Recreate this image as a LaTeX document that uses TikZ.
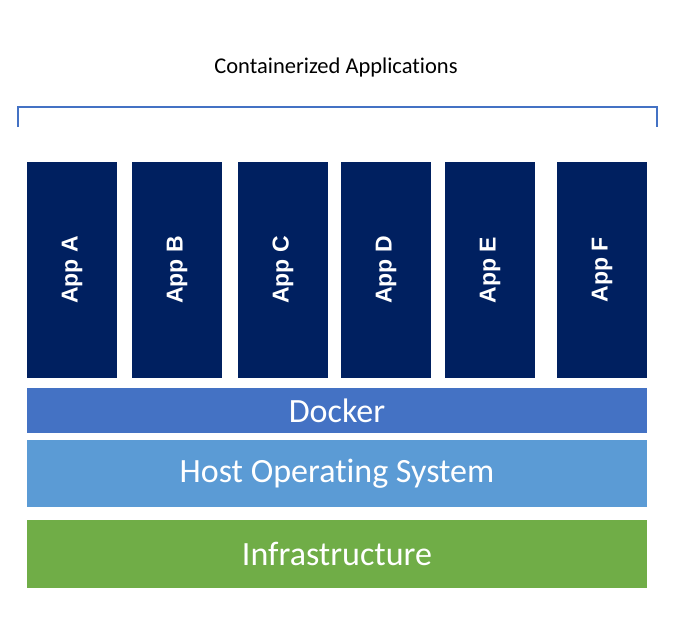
\documentclass[tikz,border=0pt]{standalone}
\usepackage{fontspec}
\setmainfont{Carlito}[Ligatures=NoCommon]
\newfontfamily\appfont{Liberation Sans}
\definecolor{appblue}{HTML}{002060}
\definecolor{dockerblue}{HTML}{4472C4}
\definecolor{hostblue}{HTML}{5B9BD5}
\definecolor{infragreen}{HTML}{70AD47}
\tikzset{
  appbox/.style={fill=appblue, minimum width=90pt, minimum height=216pt, inner sep=0pt, text=white, font=\appfont\bfseries\fontsize{23}{23}\selectfont},
  layerbox/.style={minimum width=620pt, inner sep=0pt, text=white, font=\fontsize{34}{34}\selectfont}
}
\begin{document}
\begin{tikzpicture}[x=1pt, y=-1pt]
\useasboundingbox (0,0) rectangle (680,622);
\node[font=\fontsize{22.5}{22.5}\selectfont] (title) at (336,67){Containerized Applications};
\coordinate (bl) at (18,127);
\coordinate (tl) at (18,107);
\coordinate (tr) at (657,107);
\coordinate (br) at (657,127);
\draw[dockerblue, line width=1.5pt](bl) -- (tl) -- (tr) -- (br);
\node[appbox] (appA) at (72,270){\rotatebox{90}{App A}};
\node[appbox] (appB) at (177,270){\rotatebox{90}{App B}};
\node[appbox] (appC) at (283,270){\rotatebox{90}{App C}};
\node[appbox] (appD) at (386,270){\rotatebox{90}{App D}};
\node[appbox] (appE) at (490,270){\rotatebox{90}{App E}};
\node[appbox] (appF) at (602,270){\rotatebox{90}{App F}};
\node[layerbox, fill=dockerblue, minimum height=45pt] (docker) at (337,410.5){Docker};
\node[layerbox, fill=hostblue, minimum height=67pt] (host) at (337,473.5){Host Operating System};
\node[layerbox, fill=infragreen, minimum height=68pt] (infra) at (337,554){Infrastructure};
\end{tikzpicture}
\end{document}
